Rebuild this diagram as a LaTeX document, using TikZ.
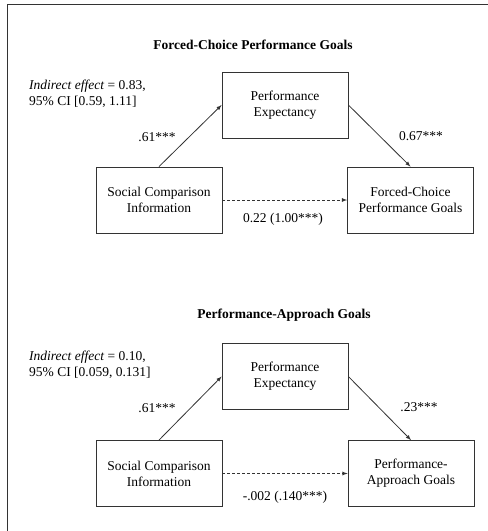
\documentclass[tikz,border=0pt]{standalone}
\usepackage{fontspec}
\setmainfont{Liberation Serif}
\usetikzlibrary{arrows}
\begin{document}
\begin{tikzpicture}[x=1pt,y=-1pt,>=latex,
  box/.style={draw=black!80,line width=0.8pt,minimum width=126pt,minimum height=66pt,align=center,font=\fontsize{13.5}{16}\selectfont},
  lbl/.style={font=\fontsize{13.5}{16}\selectfont,inner sep=0pt},
  ttl/.style={font=\fontsize{13.5}{16}\selectfont\bfseries,inner sep=0pt}]
\useasboundingbox (0,0) rectangle (488,531);
\draw[black!80,line width=1pt] (488,4) -- (7,4) -- (7,531);

\node[ttl] (t1) at (253,45) {Forced-Choice Performance Goals};
\node[lbl,anchor=west,align=left] (ie1) at (29,94) {\textit{Indirect effect} = 0.83,\\95\% CI [0.59, 1.11]};
\node[box] (pe1) at (285,105) {Performance\\Expectancy};
\node[box] (sc1) at (159,200) {Social Comparison\\Information};
\node[box] (fc1) at (410.5,200) {Forced-Choice\\Performance Goals};

\path[draw,black!80,line width=0.8pt,->] (sc1.north) -- (pe1.west);
\path[draw,black!80,line width=0.8pt,->] (pe1.east) -- (fc1.north);
\path[draw,black!80,line width=0.8pt,dash pattern=on 3pt off 2pt,->] (sc1) -- (fc1);

\node[lbl] (a1) at (157,137) {.61***};
\node[lbl] (b1) at (421,136) {0.67***};
\node[lbl] (c1) at (283,219) {0.22 (1.00***)};

\node[ttl] (t2) at (284,315) {Performance-Approach Goals};
\node[lbl,anchor=west,align=left] (ie2) at (29,365) {\textit{Indirect effect} = 0.10,\\95\% CI [0.059, 0.131]};
\node[box] (pe2) at (285,376.5) {Performance\\Expectancy};
\node[box] (sc2) at (159,473.5) {Social Comparison\\Information};
\node[box] (pa2) at (411,473.5) {Performance-\\Approach Goals};

\path[draw,black!80,line width=0.8pt,->] (sc2.north) -- (pe2.west);
\path[draw,black!80,line width=0.8pt,->] (pe2.east) -- (pa2.north);
\path[draw,black!80,line width=0.8pt,dash pattern=on 3pt off 2pt,->] (sc2) -- (pa2);

\node[lbl] (a2) at (157,408) {.61***};
\node[lbl] (b2) at (419,407) {.23***};
\node[lbl] (c2) at (285,497) {-.002 (.140***)};
\end{tikzpicture}
\end{document}
